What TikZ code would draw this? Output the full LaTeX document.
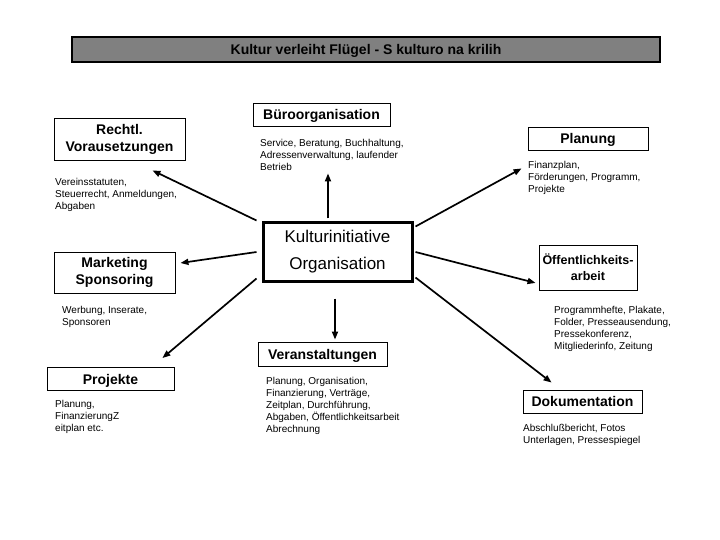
\documentclass[tikz,border=0pt]{standalone}
\usepackage{fontspec}
\setmainfont{Liberation Sans}
\usetikzlibrary{arrows.meta,positioning}

\begin{document}
\begin{tikzpicture}[x=1pt,y=-1pt,
    box/.style={draw, line width=0.9pt, inner sep=0pt, align=center, font=\fontsize{14}{17}\selectfont\bfseries},
    onebox/.style={box, text height=10pt, text depth=0pt},
    txt/.style={anchor=north west, inner sep=0pt, align=left, font=\fontsize{10}{12}\selectfont},
    arr/.style={line width=1.7pt, -{Triangle[length=8pt,width=6pt]}}]
    \useasboundingbox (0,0) rectangle (720,540);

    \node[onebox, fill=black!50, line width=2pt, minimum width=588pt, minimum height=25pt] (title) at (366,49.5) {Kultur verleiht Flügel - S kulturo na krilih};

    \node[onebox, minimum width=137pt, minimum height=23pt] (bueroBox) at (321.5,114.5) {Büroorganisation};
    \node[txt] (bueroTxt) at (260,139.5) {Service, Beratung, Buchhaltung,\\Adressenverwaltung, laufender\\Betrieb};

    \node[box, minimum width=131pt, minimum height=42pt] (rechtBox) at (119.5,139) {Rechtl.\\Vorausetzungen};
    \node[txt] (rechtTxt) at (55,178.5) {Vereinsstatuten,\\Steuerrecht, Anmeldungen,\\Abgaben};

    \node[onebox, minimum width=120pt, minimum height=23pt] (planBox) at (588,138.5) {Planung};
    \node[txt] (planTxt) at (528,161.5) {Finanzplan,\\Förderungen, Programm,\\Projekte};

    \node[box, line width=3pt, minimum width=149pt, minimum height=58pt, font=\fontsize{17}{27}\selectfont] (kultBox) at (337.5,252) {Kulturinitiative\\Organisation};

    \node[box, minimum width=121pt, minimum height=41pt] (marketBox) at (114.5,272.5) {Marketing\\Sponsoring};
    \node[txt] (marketTxt) at (62,306.5) {Werbung, Inserate,\\Sponsoren};

    \node[box, minimum width=98pt, minimum height=45pt, font=\fontsize{12.5}{16}\selectfont\bfseries] (oeffBox) at (588,267.5) {Öffentlichkeits-\\arbeit};
    \node[txt] (oeffTxt) at (554,306.5) {Programmhefte, Plakate,\\Folder, Presseausendung,\\Pressekonferenz,\\Mitgliederinfo, Zeitung};

    \node[onebox, minimum width=129pt, minimum height=24pt] (veranBox) at (322.5,354) {Veranstaltungen};
    \node[txt] (veranTxt) at (266,377.5) {Planung, Organisation,\\Finanzierung, Verträge,\\Zeitplan, Durchführung,\\Abgaben, Öffentlichkeitsarbeit\\Abrechnung};

    \node[onebox, minimum width=127pt, minimum height=23pt] (projBox) at (110.5,379) {Projekte};
    \node[txt] (projTxt) at (55,400.5) {Planung,\\FinanzierungZ\\eitplan etc.};

    \node[onebox, minimum width=119pt, minimum height=23pt] (dokuBox) at (582.5,401.5) {Dokumentation};
    \node[txt] (dokuTxt) at (523,424.5) {Abschlußbericht, Fotos\\Unterlagen, Pressespiegel};

    \draw[arr] ([shift={(-5,-1)}]kultBox.north west) -- ([shift={(-33,10)}]rechtBox.south east);
    \draw[arr] ([shift={(-9.5,-3)}]kultBox.north) -- ([shift={(6.5,47)}]bueroBox.south);
    \draw[arr] ([shift={(2,5)}]kultBox.north east) -- ([shift={(-6,18)}]planBox.south west);
    \draw[arr] ([shift={(-5,0)}]kultBox.west) -- ([shift={(5,-9.5)}]marketBox.east);
    \draw[arr] ([shift={(-5,-4)}]kultBox.south west) -- ([shift={(-12,-9)}]projBox.north east);
    \draw[arr] ([shift={(-2.5,16)}]kultBox.south) -- ([shift={(12.5,-2)}]veranBox.north);
    \draw[arr] ([shift={(2,0)}]kultBox.east) -- ([shift={(-3,-7.5)}]oeffBox.south west);
    \draw[arr] ([shift={(2,-5)}]kultBox.south east) -- ([shift={(29,-7)}]dokuBox.north west);
\end{tikzpicture}
\end{document}
